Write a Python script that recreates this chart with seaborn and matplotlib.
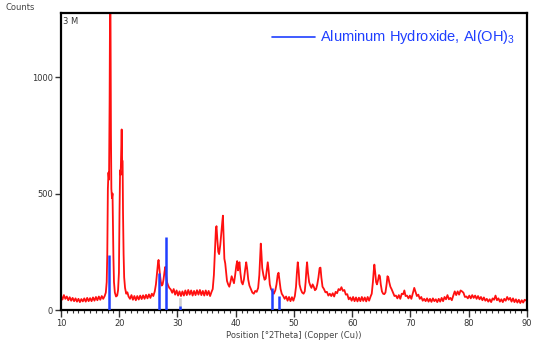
import numpy as np
import pandas as pd
import matplotlib
matplotlib.use("Agg")
import matplotlib.pyplot as plt
import seaborn as sns
from matplotlib.ticker import MultipleLocator

two_theta = [
    10.00, 10.25, 10.50, 10.75, 11.00, 11.25, 11.50, 11.75, 12.00, 12.25,
    12.50, 12.75, 13.00, 13.25, 13.50, 13.75, 14.00, 14.25, 14.50, 14.75,
    15.00, 15.25, 15.50, 15.75, 16.00, 16.25, 16.50, 16.75, 17.00, 17.25,
    17.50, 17.70, 17.85, 17.95, 18.05, 18.15, 18.25, 18.35, 18.42, 18.50,
    18.58, 18.65, 18.75, 18.85, 18.92, 19.00, 19.10, 19.25, 19.45, 19.65,
    19.80, 19.95, 20.05, 20.15, 20.25, 20.35, 20.42, 20.50, 20.58, 20.65,
    20.75, 20.85, 21.00, 21.20, 21.40, 21.60, 21.85, 22.10, 22.35, 22.60,
    22.85, 23.10, 23.35, 23.60, 23.85, 24.10, 24.35, 24.60, 24.85, 25.10,
    25.35, 25.60, 25.85, 26.10, 26.30, 26.50, 26.65, 26.75, 26.85, 27.00,
    27.15, 27.30, 27.45, 27.60, 27.75, 27.90, 28.05, 28.20, 28.40, 28.60,
    28.85, 29.10, 29.35, 29.60, 29.85, 30.10, 30.35, 30.60, 30.85, 31.10,
    31.35, 31.60, 31.85, 32.10, 32.35, 32.60, 32.85, 33.10, 33.35, 33.60,
    33.85, 34.10, 34.35, 34.60, 34.85, 35.10, 35.35, 35.60, 35.85, 36.05,
    36.25, 36.45, 36.60, 36.70, 36.85, 37.00, 37.15, 37.35, 37.55, 37.70,
    37.80, 37.90, 38.05, 38.20, 38.35, 38.50, 38.70, 38.90, 39.10, 39.30,
    39.50, 39.70, 39.90, 40.10, 40.25, 40.40, 40.55, 40.65, 40.80, 41.00,
    41.20, 41.40, 41.60, 41.80, 41.95, 42.15, 42.35, 42.60, 42.85, 43.10,
    43.35, 43.60, 43.85, 44.05, 44.20, 44.30, 44.40, 44.55, 44.75, 44.95,
    45.15, 45.35, 45.50, 45.65, 45.85, 46.05, 46.30, 46.55, 46.80, 47.00,
    47.20, 47.35, 47.50, 47.70, 47.90, 48.15, 48.40, 48.65, 48.90, 49.15,
    49.40, 49.65, 49.90, 50.15, 50.35, 50.50, 50.65, 50.80, 50.95, 51.15,
    51.40, 51.65, 51.85, 52.00, 52.15, 52.25, 52.40, 52.60, 52.80, 53.00,
    53.20, 53.40, 53.60, 53.80, 54.00, 54.20, 54.40, 54.55, 54.70, 54.90,
    55.15, 55.40, 55.65, 55.90, 56.15, 56.40, 56.65, 56.90, 57.15, 57.40,
    57.65, 57.90, 58.15, 58.40, 58.65, 58.90, 59.15, 59.40, 59.65, 59.90,
    60.15, 60.40, 60.65, 60.90, 61.15, 61.40, 61.65, 61.90, 62.15, 62.40,
    62.65, 62.90, 63.15, 63.35, 63.55, 63.70, 63.80, 63.95, 64.10, 64.25,
    64.45, 64.60, 64.75, 64.90, 65.10, 65.30, 65.50, 65.70, 65.90, 66.05,
    66.20, 66.35, 66.55, 66.75, 67.00, 67.25, 67.50, 67.75, 68.00, 68.25,
    68.50, 68.75, 68.95, 69.15, 69.40, 69.65, 69.90, 70.15, 70.40, 70.65,
    70.85, 71.10, 71.35, 71.60, 71.85, 72.10, 72.35, 72.60, 72.85, 73.10,
    73.35, 73.60, 73.85, 74.10, 74.35, 74.60, 74.85, 75.10, 75.35, 75.60,
    75.85, 76.10, 76.35, 76.60, 76.85, 77.10, 77.35, 77.60, 77.85, 78.10,
    78.35, 78.60, 78.85, 79.10, 79.35, 79.60, 79.85, 80.10, 80.35, 80.60,
    80.85, 81.10, 81.35, 81.60, 81.85, 82.10, 82.35, 82.60, 82.85, 83.10,
    83.35, 83.60, 83.85, 84.10, 84.35, 84.60, 84.85, 85.10, 85.35, 85.60,
    85.85, 86.10, 86.35, 86.60, 86.85, 87.10, 87.35, 87.60, 87.85, 88.10,
    88.35, 88.60, 88.85, 89.10, 89.35, 89.60, 89.90,
]
counts = [
    60, 45, 64, 48, 58, 42, 55, 40, 52, 38,
    50, 36, 48, 34, 47, 37, 50, 36, 52, 38,
    51, 38, 54, 40, 56, 42, 58, 44, 60, 48,
    60, 75, 120, 240, 520, 590, 560, 900, 1290, 1290,
    760, 520, 480, 500, 380, 230, 120, 75, 58, 62,
    85, 160, 420, 600, 580, 700, 775, 640, 640, 420,
    240, 140, 95, 70, 76, 58, 48, 64, 44, 60,
    42, 60, 45, 62, 47, 63, 48, 65, 50, 67,
    52, 70, 60, 80, 110, 160, 200, 215, 190, 150,
    120, 105, 110, 130, 160, 185, 150, 120, 105, 95,
    88, 74, 90, 66, 84, 62, 80, 60, 80, 62,
    84, 64, 86, 66, 84, 62, 82, 64, 85, 66,
    86, 64, 82, 62, 84, 64, 82, 60, 78, 90,
    150, 260, 350, 360, 300, 250, 240, 280, 340, 380,
    405, 330, 220, 200, 160, 125, 110, 100, 120, 145,
    130, 115, 150, 190, 210, 170, 200, 205, 160, 120,
    110, 130, 170, 205, 180, 130, 105, 90, 75, 70,
    82, 78, 95, 150, 230, 285, 250, 180, 150, 130,
    135, 175, 205, 170, 110, 90, 80, 70, 85, 110,
    150, 160, 130, 90, 70, 60, 48, 58, 40, 56,
    38, 55, 40, 60, 100, 160, 205, 170, 110, 90,
    75, 70, 80, 120, 180, 205, 160, 120, 105, 95,
    110, 100, 85, 90, 110, 140, 180, 182, 140, 100,
    90, 76, 78, 62, 70, 60, 72, 58, 78, 72,
    90, 85, 98, 82, 86, 66, 68, 46, 54, 40,
    56, 38, 54, 37, 53, 38, 56, 39, 54, 37,
    56, 40, 58, 70, 120, 170, 195, 160, 120, 110,
    130, 150, 145, 110, 80, 70, 68, 75, 110, 145,
    140, 120, 100, 90, 75, 60, 62, 50, 64, 48,
    70, 68, 84, 60, 62, 50, 62, 48, 72, 95,
    80, 60, 66, 48, 56, 40, 48, 38, 50, 36,
    48, 35, 50, 38, 46, 34, 48, 36, 52, 38,
    56, 46, 64, 46, 52, 42, 62, 80, 64, 80,
    66, 84, 80, 74, 56, 58, 50, 62, 50, 64,
    52, 62, 48, 60, 46, 56, 42, 54, 40, 48,
    36, 46, 34, 50, 44, 62, 42, 50, 36, 46,
    34, 48, 40, 56, 44, 52, 36, 50, 34, 46,
    32, 44, 30, 42, 32, 44, 40,
]

# reference pattern sticks for Al(OH)3
ref_pos = [18.2, 26.75, 27.95, 30.5, 46.15, 47.35]
ref_int = [236, 159, 315, 17, 94, 61]

# grey marker behind the small stick
grey_pos = [30.45]
grey_top = [55]

df = pd.DataFrame({"theta": two_theta, "counts": counts})

sns.set_style("white")
plt.rcParams["font.family"] = ["DejaVu Sans"]

fig = plt.figure(figsize=(5.33, 3.49), dpi=100)
ax = fig.add_axes([0.1144, 0.1117, 0.8743, 0.8511])

ax.bar(grey_pos, grey_top, width=0.7, color="#d0d0d0", zorder=1)
sns.lineplot(data=df, x="theta", y="counts", color="#ff1010", linewidth=1.3,
             sort=False, estimator=None, ax=ax, zorder=2)
ax.vlines(ref_pos, 0, ref_int, color="#1f3fff", linewidth=1.8, zorder=3)

ax.set_xlim(10, 90)
ax.set_ylim(0, 1275)
ax.set_xticks(range(10, 91, 10))
ax.xaxis.set_minor_locator(MultipleLocator(1))
ax.set_yticks([0, 500, 1000])
ax.tick_params(axis="x", which="major", direction="out", length=5, width=1,
               labelsize=6, colors="#333333", bottom=True, pad=1.5)
ax.tick_params(axis="x", which="minor", direction="out", length=2.5, width=0.8,
               bottom=True, colors="#333333")
ax.tick_params(axis="y", direction="out", length=4, width=1, labelsize=6,
               colors="#333333", left=True, pad=2)
for s in ax.spines.values():
    s.set_color("black")
    s.set_linewidth(1.6)

ax.set_xlabel("Position [°2Theta] (Copper (Cu))", fontsize=6, color="#444444",
              labelpad=2)
ax.set_ylabel("")
fig.text(0.01, 0.97, "Counts", fontsize=6, color="#444444")
ax.text(0.004, 0.985, "3 M", transform=ax.transAxes, fontsize=6,
        color="#333333", va="top", ha="left")

# legend
ax.plot([0.453, 0.545], [0.92, 0.92], transform=ax.transAxes, color="#1f3fff",
        linewidth=1.2)
ax.text(0.555, 0.92, r"Aluminum Hydroxide, Al(OH)$_\mathregular{3}$",
        transform=ax.transAxes, fontsize=10.5, color="#1f3fff", va="center",
        ha="left", family="Liberation Sans")

fig.savefig("out.png", dpi=100)
